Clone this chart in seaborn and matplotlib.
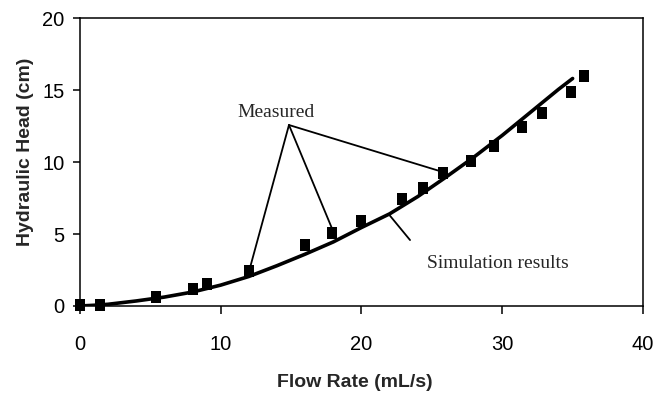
import numpy as np
import pandas as pd
import matplotlib
matplotlib.use("Agg")
import matplotlib.pyplot as plt
from matplotlib import font_manager
import seaborn as sns

# ---- data ----
meas_x = [0.0, 1.4, 5.4, 8.0, 9.0, 12.0, 16.0, 17.9, 20.0, 22.9, 24.4, 25.8, 27.8, 29.4, 31.4, 32.8, 34.9, 35.8]
meas_y = [0.1, 0.1, 0.65, 1.2, 1.55, 2.45, 4.25, 5.1, 5.9, 7.45, 8.2, 9.25, 10.05, 11.1, 12.4, 13.4, 14.85, 15.95]

sim_x = [0, 1, 2, 4, 6, 8, 10, 12, 14, 16, 18, 20, 22, 24, 26, 28, 30, 32, 34, 35]
sim_y = [0, 0.05, 0.12, 0.35, 0.62, 0.97, 1.45, 2.05, 2.8, 3.6, 4.45, 5.45, 6.4, 7.6, 8.95, 10.35, 11.85, 13.45, 15.05, 15.8]

x_ticks = [0, 10, 20, 30, 40]
y_ticks = [0, 5, 10, 15, 20]
x_label = "Flow Rate (mL/s)"
y_label = "Hydraulic Head (cm)"
measured_label = "Measured"
sim_label = "Simulation results"

sns.set_style("ticks")
plt.rcParams['font.family'] = ['Liberation Sans', 'DejaVu Sans']

names = {f.name for f in font_manager.fontManager.ttflist}
if 'Liberation Sans Narrow' in names:
    tick_family, tick_size = 'Liberation Sans Narrow', 16
else:
    tick_family, tick_size = 'Liberation Sans', 14.5

fig = plt.figure(figsize=(6.66, 4.03), dpi=100)
ax = fig.add_axes([0.120, 0.2407, 0.8455, 0.7146])

sim_df = pd.DataFrame({"x": sim_x, "y": sim_y})
meas_df = pd.DataFrame({"x": meas_x, "y": meas_y})

sns.lineplot(data=sim_df, x="x", y="y", ax=ax, color="black", linewidth=2.6,
             sort=False, estimator=None)

rect = [(-0.41, -0.5), (0.41, -0.5), (0.41, 0.5), (-0.41, 0.5), (-0.41, -0.5)]
sns.scatterplot(data=meas_df, x="x", y="y", ax=ax, color="black", marker=rect,
                s=72, linewidth=0, clip_on=False, zorder=5)

ax.set_xlim(0, 40)
ax.set_ylim(0, 20)
ax.set_xticks(x_ticks)
ax.set_yticks(y_ticks)
for lab in ax.get_xticklabels() + ax.get_yticklabels():
    lab.set_family(tick_family)
    lab.set_fontsize(tick_size)

ax.tick_params(axis='y', direction='out', length=5, width=1.1, pad=6, colors='black')
ax.tick_params(axis='x', direction='out', length=6, width=1.1, pad=15, colors='black')
for sp in ax.spines.values():
    sp.set_visible(True)
    sp.set_color('black')
    sp.set_linewidth(1.1)

ax.set_xlabel(x_label, fontsize=14, fontweight='bold', family='Liberation Sans')
ax.set_ylabel(y_label, fontsize=14, fontweight='bold', family='Liberation Sans')
ax.xaxis.set_label_coords(0.488, -0.235)
ax.yaxis.set_label_coords(-0.082, 0.535)

serif = ['Liberation Serif', 'DejaVu Serif']
conv = (14.85, 12.57)
ax.text(13.9, 13.1, measured_label, family=serif, fontsize=14, ha='center', va='baseline')
for tx, ty in [(12.1, 2.72), (17.9, 5.4), (25.8, 9.3)]:
    ax.annotate('', xy=(tx, ty), xytext=conv,
                arrowprops=dict(arrowstyle='-', color='black', lw=1.3, shrinkA=0, shrinkB=0))

ax.text(29.7, 2.64, sim_label, family=serif, fontsize=14, ha='center', va='baseline')
ax.annotate('', xy=(22.0, 6.3), xytext=(23.45, 4.58),
            arrowprops=dict(arrowstyle='-', color='black', lw=1.3, shrinkA=0, shrinkB=0))

fig.savefig("out.png", dpi=100)
